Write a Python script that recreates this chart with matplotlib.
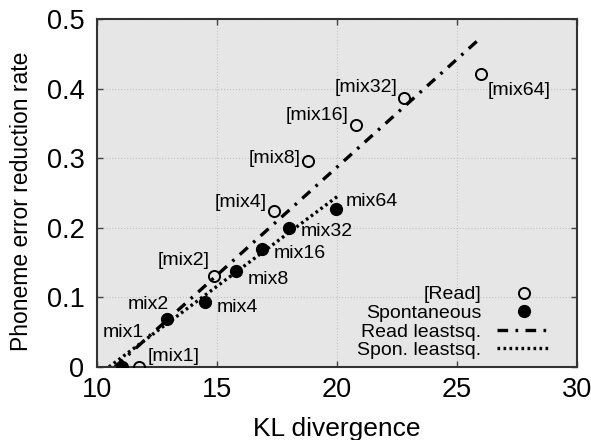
import numpy as np
import matplotlib.pyplot as plt

plt.rcParams['font.family'] = ['Liberation Sans', 'DejaVu Sans']

# read speech points
read_kl = [11.75, 14.9, 17.4, 18.8, 20.8, 22.8, 26.0]
read_rate = [0.0, 0.131, 0.224, 0.296, 0.348, 0.386, 0.421]
read_labels = ['[mix1]', '[mix2]', '[mix4]', '[mix8]', '[mix16]', '[mix32]', '[mix64]']

# spontaneous speech points
spon_kl = [11.05, 12.9, 14.5, 15.8, 16.9, 18.0, 19.96]
spon_rate = [0.0, 0.069, 0.093, 0.138, 0.170, 0.200, 0.227]
spon_labels = ['mix1', 'mix2', 'mix4', 'mix8', 'mix16', 'mix32', 'mix64']

# least squares lines (end points)
read_fit_x = [10.75, 26.0]
read_fit_y = [0.0, 0.473]
spon_fit_x = [10.5, 20.1]
spon_fit_y = [0.0, 0.247]

# label offsets in pixels (dx, dy, ha, va)
read_offs = [(9, 2, 'left', 'bottom'), (-5, 7, 'right', 'bottom'), (-8, 0, 'right', 'bottom'),
             (-7, 2, 'right', 'center'), (-8, 1, 'right', 'bottom'), (-7, 2, 'right', 'bottom'),
             (7, -8, 'left', 'top')]
spon_offs = [(22, 26, 'right', 'bottom'), (2, 6, 'right', 'bottom'), (12, -5, 'left', 'center'),
             (12, 0, 'left', 'top'), (11, -5, 'left', 'center'), (12, -4, 'left', 'center'),
             (10, 7, 'left', 'center')]

fig = plt.figure(figsize=(5.91, 4.40), dpi=100)
ax = fig.add_axes([0.164, 0.166, 0.812, 0.791])
ax.set_facecolor('#e6e6e6')

ax.plot(read_fit_x, read_fit_y, color='black', lw=2.4, ls=(0, (3.2, 2.2, 0.8, 2.2)),
        label='Read leastsq.', zorder=2)
ax.plot(spon_fit_x, spon_fit_y, color='black', lw=2.4, ls=(0, (0.8, 1.0)),
        label='Spon. leastsq.', zorder=2)
ax.plot(read_kl, read_rate, 'o', ms=8, mfc='none', mec='black', mew=1.4, label='[Read]', zorder=3)
ax.plot(spon_kl, spon_rate, 'o', ms=8.5, color='black', label='Spontaneous', zorder=3)

for x, y, t, (dx, dy, ha, va) in zip(read_kl, read_rate, read_labels, read_offs):
    ax.annotate(t, (x, y), xytext=(dx, dy), textcoords='offset pixels', ha=ha, va=va, fontsize=14)
for x, y, t, (dx, dy, ha, va) in zip(spon_kl, spon_rate, spon_labels, spon_offs):
    ax.annotate(t, (x, y), xytext=(dx, dy), textcoords='offset pixels', ha=ha, va=va, fontsize=14)

ax.set_xlim(10, 30)
ax.set_ylim(0, 0.5)
ax.set_xticks([10, 15, 20, 25, 30])
ax.set_yticks([0, 0.1, 0.2, 0.3, 0.4, 0.5])
ax.set_yticklabels(['0', '0.1', '0.2', '0.3', '0.4', '0.5'])
ax.grid(True, color='#c4c4c4', ls=':', lw=0.8)
ax.tick_params(direction='in', top=True, right=True, length=4, width=1, labelsize=19.5,
               color='#444444')
ax.tick_params(axis='x', pad=7)
ax.tick_params(axis='y', pad=9)
for s in ax.spines.values():
    s.set_color('#333333')
    s.set_linewidth(1.5)
ax.set_xlabel('KL divergence', fontsize=19)
ax.set_ylabel('Phoneme error reduction rate', fontsize=16.5)
ax.xaxis.set_label_coords(0.5, -0.145)
ax.yaxis.set_label_coords(-0.133, 0.475)

handles, labels = ax.get_legend_handles_labels()
order = [2, 3, 0, 1]
ax.legend([handles[i] for i in order], [labels[i] for i in order], loc='lower right',
          bbox_to_anchor=(0.9625, 0.0), borderaxespad=0.0,
          markerfirst=False, frameon=False, fontsize=14, handlelength=2.8,
          labelspacing=0.05, handletextpad=0.8)

fig.savefig('out.png', dpi=100)
